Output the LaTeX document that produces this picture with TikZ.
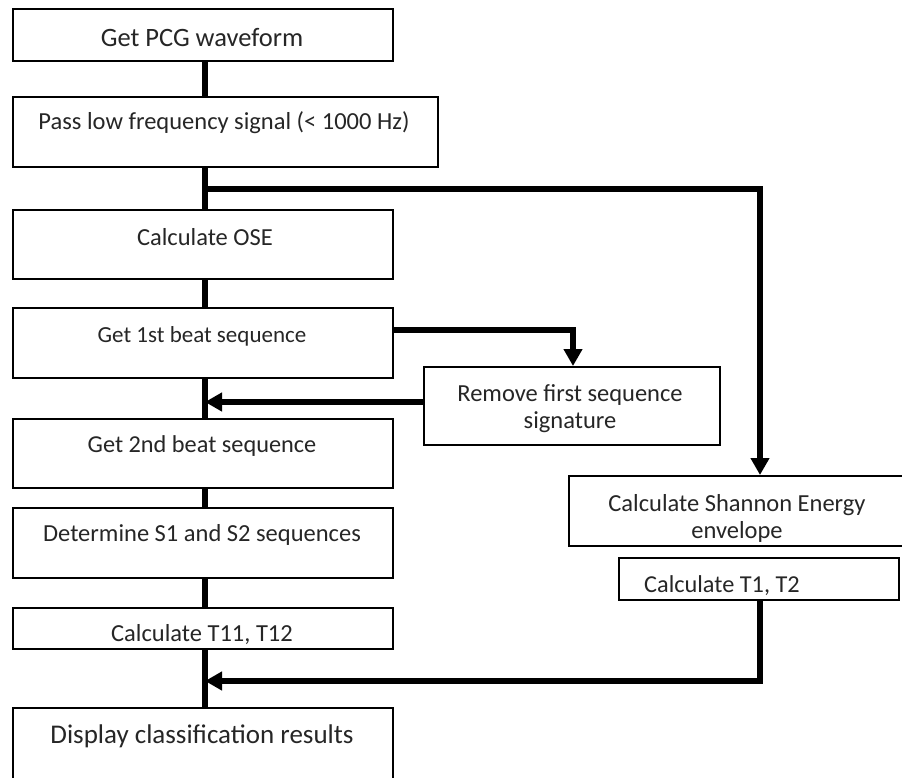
\documentclass[tikz,border=0pt]{standalone}
\usepackage{fontspec}
\setmainfont{Carlito}
\usetikzlibrary{arrows.meta}
\begin{document}
\begin{tikzpicture}[x=1pt,y=-1pt,
  box/.style={draw=black, line width=2.2pt, fill=white, inner sep=0pt, anchor=north west},
  txt/.style={inner sep=0pt, anchor=base, text=black!85, align=center},
  fs/.style={font=\fontsize{#1}{27}\selectfont},
  conn/.style={line width=6.5pt},
  arr/.style={conn, -{Triangle[length=17pt,width=18pt]}}]
\useasboundingbox (0,0) rectangle (902,778);
\fill[white] (0,0) rectangle (902,778);
% boxes
\node[box, minimum width=380pt, minimum height=52pt] (b1) at (12,8) {};
\node[box, minimum width=425pt, minimum height=70pt] (b2) at (12,96) {};
\node[box, minimum width=380pt, minimum height=69pt] (b3) at (12,209) {};
\node[box, minimum width=380pt, minimum height=70pt] (b4) at (12,307) {};
\node[box, minimum width=380pt, minimum height=69pt] (b5) at (12,418) {};
\node[box, minimum width=380pt, minimum height=70pt] (b6) at (12,507) {};
\node[box, minimum width=380pt, minimum height=41pt] (b7) at (12,607) {};
\node[box, minimum width=380pt, minimum height=78pt] (b8) at (12,707) {};
\node[box, minimum width=296pt, minimum height=78pt] (rem) at (423,366) {};
\node[box, minimum width=337pt, minimum height=70pt] (sha) at (568,475) {};
\node[box, minimum width=280pt, minimum height=42pt] (t12) at (618,557) {};
% texts
\node[txt, fs=26.5] (l1) at (202,47) {Get PCG waveform};
\node[txt, fs=24.5] (l2) at (224,130) {Pass low frequency signal (< 1000 Hz)};
\node[txt, fs=24.5] (l3) at (205,245) {Calculate OSE};
\node[txt, fs=23] (l4) at (202,342) {Get 1st beat sequence};
\node[txt, fs=24.3] (l5) at (202,452) {Get 2nd beat sequence};
\node[txt, fs=24.5] (l6) at (202,541) {Determine S1 and S2 sequences};
\node[txt, fs=24.5] (l7) at (202,641) {Calculate T11, T12};
\node[txt, fs=27] (l8) at (202,743) {Display classification results};
\node[txt, fs=24.5] (lr) at (570,428) {Remove first sequence\\signature};
\node[txt, fs=24.5] (ls) at (737,538) {Calculate Shannon Energy\\envelope};
\node[txt, fs=24.3] (lt) at (722,592) {Calculate T1, T2};
% helper coordinates
\coordinate (cx) at (205,0);
\coordinate (rx) at (760,0);
\coordinate (mx) at (573,0);
\coordinate (br) at (205,189);
\coordinate (y1) at (0,330);
\coordinate (y2) at (0,402);
\coordinate (y3) at (0,681);
% connectors
\draw[conn] (b1.south -| cx) -- (b2.north -| cx);
\draw[conn] (b2.south -| cx) -- (b3.north -| cx);
\draw[conn] (b3.south -| cx) -- (b4.north -| cx);
\draw[conn] (b4.south -| cx) -- (b5.north -| cx);
\draw[conn] (b5.south -| cx) -- (b6.north -| cx);
\draw[conn] (b6.south -| cx) -- (b7.north -| cx);
\draw[conn] (b7.south -| cx) -- (b8.north -| cx);
\draw[arr] (br) -| (sha.north -| rx);
\draw[arr] (b4.east |- y1) -| (rem.north -| mx);
\draw[arr] (rem.west |- y2) -- (y2 -| cx);
\draw[arr] (t12.south -| rx) |- (y3 -| cx);
\end{tikzpicture}
\end{document}
